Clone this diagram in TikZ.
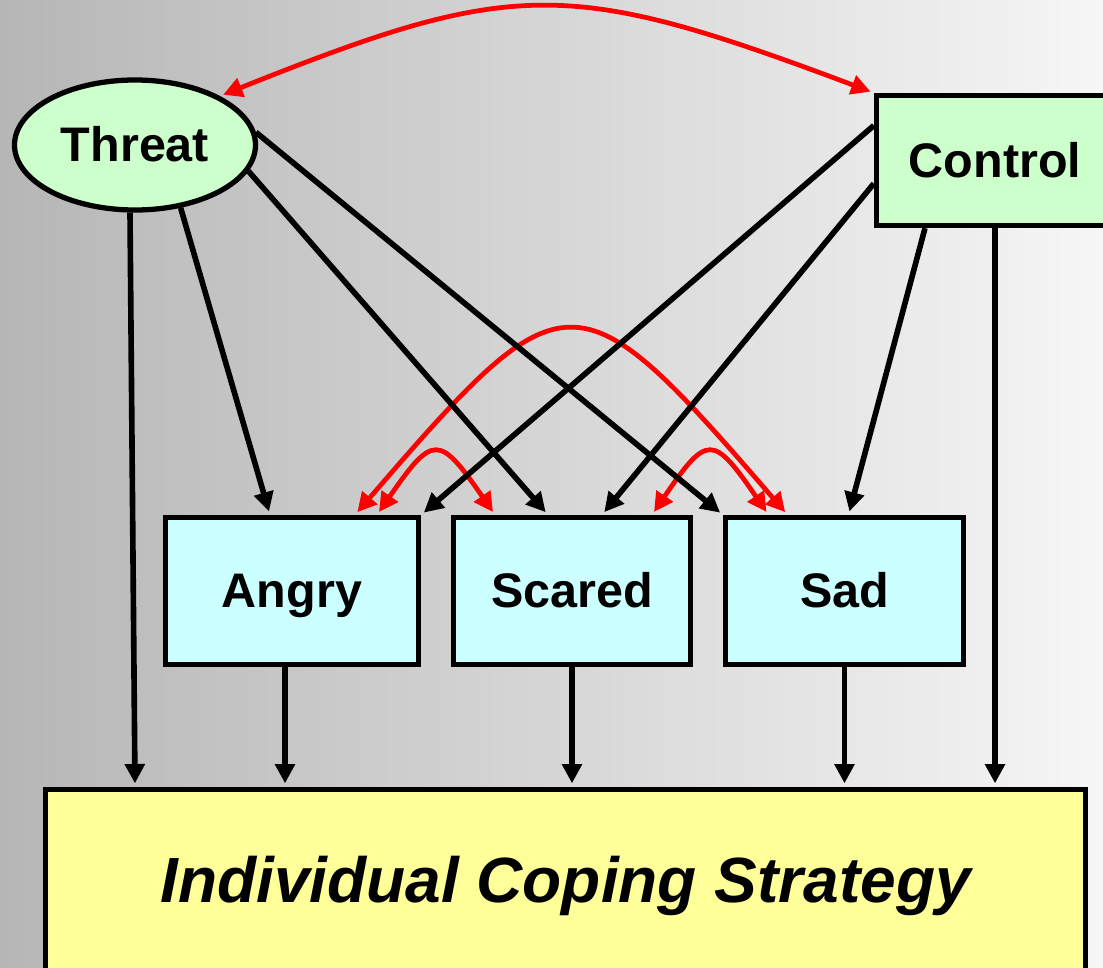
\documentclass[tikz,border=0pt]{standalone}
\usepackage{fontspec}
\setmainfont{Liberation Sans}
\usetikzlibrary{shapes,arrows.meta}

\definecolor{bgleft}{RGB}{182,182,182}
\definecolor{bgright}{RGB}{246,246,246}
\definecolor{appraisal}{RGB}{204,255,204}
\definecolor{emotion}{RGB}{204,255,255}
\definecolor{coping}{RGB}{255,255,153}

\tikzset{
	lbl/.style={font=\fontsize{13.8}{16}\selectfont\bfseries, text height=2.1ex, text depth=.3ex},
	emo/.style={draw, line width=1.5pt, fill=emotion, minimum height=1.47cm, lbl},
	arr/.style={->, line width=1.6pt, shorten >=1pt},
	dbl/.style={<->, draw=red, line width=1.35pt, shorten >=1pt, shorten <=1pt},
	>={Triangle[length=5.5pt,width=5.5pt]}
}

\begin{document}
\begin{tikzpicture}
	\clip (0,0) rectangle (11.03,-9.67);
	\shade [left color=bgleft, right color=bgright] (0,0) rectangle (11.03,-9.67);

	\node [ellipse, draw, line width=1.5pt, fill=appraisal, minimum width=2.41cm, minimum height=1.30cm, inner sep=0pt, lbl] (threat) at (1.35,-1.45) {Threat};
	\node [rectangle, draw, line width=1.5pt, fill=appraisal, minimum width=2.37cm, minimum height=1.30cm, lbl] (control) at (9.95,-1.605) {Control};
	\node [emo, minimum width=2.53cm] (angry) at (2.92,-5.91) {Angry};
	\node [emo, minimum width=2.37cm] (scared) at (5.72,-5.91) {Scared};
	\node [emo, minimum width=2.38cm] (sad) at (8.445,-5.91) {Sad};
	\node [draw, line width=1.5pt, fill=coping, minimum width=10.40cm, minimum height=1.93cm, font=\fontsize{18.2}{22}\selectfont\bfseries\itshape] (strategy) at (5.655,-8.86) {Individual Coping Strategy};

	% red: correlations
	\draw [dbl] (threat.30) .. controls (5.15,0.22) and (5.68,0.22) .. (control.north west);
	\draw [dbl] ([xshift=.63cm]angry.north) .. controls (5.66,-2.70) and (5.76,-2.70) .. ([xshift=-.57cm]sad.north);
	\draw [dbl] ([xshift=.85cm]angry.north) .. controls (4.33,-4.34) and (4.39,-4.34) .. ([xshift=-.77cm]scared.north);
	\draw [dbl] ([xshift=.80cm]scared.north) .. controls (7.07,-4.34) and (7.13,-4.34) .. ([xshift=-.76cm]sad.north);

	% threat
	\draw [arr] ([xshift=-.05cm]threat.south) -- (threat.south |- strategy.north);
	\draw [arr] (threat.-54) -- ([xshift=-.22cm]angry.north);
	\draw [arr] (threat.-13) -- ([xshift=-.24cm]scared.north);
	\draw [arr] (threat.6) -- (sad.north west);
	% control
	\draw [arr] ([yshift=.35cm]control.west) -- (angry.north east);
	\draw [arr] ([yshift=-.23cm]control.west) -- ([xshift=.30cm]scared.north);
	\draw [arr] ([xshift=-.70cm]control.south) -- ([xshift=.04cm]sad.north);
	\draw [arr] (control.south) -- (control.south |- strategy.north);
	% emotions
	\draw [arr] ([xshift=-.07cm]angry.south) -- ([xshift=-.07cm]angry.south |- strategy.north);
	\draw [arr] (scared.south) -- (scared.south |- strategy.north);
	\draw [arr] (sad.south) -- (sad.south |- strategy.north);
\end{tikzpicture}
\end{document}
